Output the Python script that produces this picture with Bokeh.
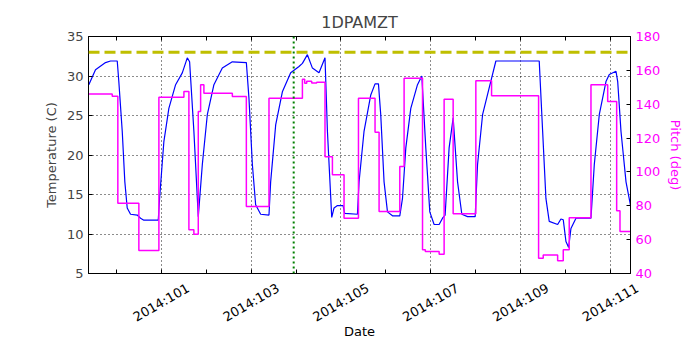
from math import pi
from bokeh.plotting import figure
from bokeh.layouts import column
from bokeh.models import Range1d, LinearAxis, FixedTicker, Span, CustomJSTickFormatter
from bokeh.core.properties import value
from bokeh.embed import file_html
from bokeh.resources import INLINE

# ---- data (day-of-year 2014) ----
temp_doy = [99.387, 99.536, 99.759, 99.870, 100.020, 100.055, 100.131, 100.189, 100.242,
            100.316, 100.465, 100.539, 100.612, 100.933, 100.962, 101.058, 101.169, 101.319,
            101.468, 101.579, 101.631, 101.726, 101.824, 101.914, 102.025, 102.172, 102.359,
            102.582, 102.894, 102.952, 103.028, 103.101, 103.213, 103.398, 103.435, 103.547,
            103.696, 103.881, 104.066, 104.142, 104.253, 104.365, 104.512, 104.645, 104.699,
            104.795, 104.846, 104.922, 105.047, 105.084, 105.367, 105.403, 105.514, 105.664,
            105.759, 105.835, 105.886, 105.960, 106.036, 106.147, 106.310, 106.370, 106.444,
            106.555, 106.704, 106.800, 106.889, 106.978, 107.074, 107.186, 107.261, 107.319,
            107.408, 107.498, 107.596, 107.691, 107.818, 107.988, 108.041, 108.153, 108.300,
            108.449, 109.414, 109.490, 109.563, 109.637, 109.824, 109.897, 109.949, 110.009,
            110.069, 110.120, 110.232, 110.566, 110.640, 110.751, 110.900, 110.974, 111.123,
            111.161, 111.234, 111.346, 111.457]
temp_c = [28.9, 30.8, 31.7, 31.9, 31.9, 29.3, 23.0, 16.6, 13.3,
          12.5, 12.4, 12.0, 11.75, 11.75, 14.5, 21.7, 25.9, 28.9,
          30.4, 32.3, 31.8, 23.0, 12.2, 18.8, 25.1, 28.9, 31.0,
          31.8, 31.7, 27.2, 18.8, 13.7, 12.5, 12.4, 16.6, 23.8,
          28.0, 30.4, 31.2, 31.6, 32.7, 31.0, 30.4, 32.3, 23.0,
          12.1, 13.3, 13.6, 13.6, 12.6, 12.5, 16.6, 23.0, 27.6,
          29.0, 29.0, 25.1, 16.6, 12.8, 12.3, 12.3, 14.5, 20.9,
          25.9, 28.9, 30.0, 20.9, 12.8, 11.2, 11.2, 12.0, 12.4,
          20.9, 24.7, 16.6, 12.5, 12.2, 12.2, 18.8, 25.1, 28.5,
          31.9, 31.9, 23.0, 14.5, 11.6, 11.2, 11.9, 11.8, 9.05,
          8.3, 10.7, 12.0, 12.0, 18.8, 25.1, 29.3, 30.2, 30.6,
          29.3, 23.0, 16.6, 13.3]

pitch_doy = [99.380, 99.908, 100.033, 100.501, 100.947, 101.504, 101.615, 101.726, 101.824,
             101.876, 101.949, 102.582, 102.894, 103.398, 104.142, 104.193, 104.238, 104.349,
             104.460, 104.645, 104.810, 105.069, 105.390, 105.759, 105.849, 106.310, 106.406,
             106.816, 106.878, 107.186, 107.297, 107.498, 108.003, 108.353, 109.400, 109.503,
             109.824, 109.949, 110.082, 110.566, 110.938, 111.138, 111.212, 111.446]
pitch_deg = [146.1, 144.7, 81.5, 53.6, 144.1, 147.5, 65.8, 63.2, 135.7,
             151.5, 146.5, 144.5, 79.6, 143.5, 154.8, 152.4, 153.5, 152.5,
             153.0, 108.9, 98.3, 72.7, 143.5, 123.5, 76.6, 103.2, 155.4,
             54.0, 53.0, 51.4, 143.0, 75.3, 153.8, 145.0, 49.0, 51.0,
             47.5, 54.0, 73.0, 151.5, 141.6, 77.0, 64.8, 64.8]

limit_temp = 33.0
now_doy = 103.948
x_major_days = [101, 103, 105, 107, 109, 111]
x_minor_days = [100, 102, 104, 106, 108, 110]
x_labels = ["2014:101", "2014:103", "2014:105", "2014:107", "2014:109", "2014:111"]
temp_ticks = [5, 10, 15, 20, 25, 30, 35]
pitch_ticks = [40, 60, 80, 100, 120, 140, 160, 180]

FONT = "DejaVu Sans"
MAG = "#ff00ff"

X0, X1 = 99.38, 111.446
FRAME_W, FRAME_H = 542, 237
LEFT, RIGHT, TOP, BOTTOM = 88, 62, 36, 7

p = figure(frame_width=FRAME_W, frame_height=FRAME_H,
           x_range=Range1d(X0, X1), y_range=Range1d(5, 35),
           output_backend="svg", toolbar_location=None,
           min_border_left=LEFT, min_border_right=RIGHT, min_border_top=TOP,
           min_border_bottom=BOTTOM)
p.background_fill_color = "white"
p.border_fill_color = "white"
p.outline_line_color = "black"
p.outline_line_width = 1

p.title.text = "1DPAMZT"
p.title.align = "center"
p.title.text_font = FONT
p.title.text_font_size = "16px"
p.title.text_font_style = "normal"

p.extra_y_ranges = {"pitch": Range1d(40, 180)}

blank = CustomJSTickFormatter(code="return ''")

xa = p.xaxis[0]
xa.ticker = FixedTicker(ticks=x_major_days, minor_ticks=x_minor_days)
xa.formatter = blank
xa.major_label_standoff = 0

ya = p.yaxis[0]
ya.ticker = FixedTicker(ticks=temp_ticks)
ya.axis_label = "Temperature (C)"

ra = LinearAxis(y_range_name="pitch", ticker=FixedTicker(ticks=pitch_ticks),
                axis_label="Pitch (deg)")
p.add_layout(ra, "right")

ta = LinearAxis(ticker=FixedTicker(ticks=x_major_days, minor_ticks=x_minor_days),
                formatter=blank)
p.add_layout(ta, "above")

for ax in [xa, ya, ra, ta]:
    ax.major_tick_in = 4
    ax.major_tick_out = 0
    ax.minor_tick_in = 4
    ax.minor_tick_out = 0
    ax.axis_line_color = "black"
    ax.major_tick_line_color = "black"
    ax.minor_tick_line_color = "black"
    ax.major_label_text_font = FONT
    ax.major_label_text_font_size = "13px"
    ax.axis_label_text_font = FONT
    ax.axis_label_text_font_size = "13px"
    ax.axis_label_text_font_style = "normal"
ya.minor_tick_line_color = None
ra.minor_tick_line_color = None
ra.major_label_text_color = MAG
ra.axis_label_text_color = MAG
ta.major_label_standoff = 0

for g in [p.xgrid[0], p.ygrid[0]]:
    g.grid_line_color = "black"
    g.grid_line_dash = "1 3"
    g.grid_line_width = 1
    g.grid_line_alpha = 0.9

p.add_layout(Span(location=limit_temp, dimension="width", line_color="#bfbf00",
                  line_width=3, line_dash="11 5"))
p.add_layout(Span(location=now_doy, dimension="height", line_color="#008000",
                  line_width=2, line_dash="2 3"))

p.line(temp_doy, temp_c, line_color="#0000ff", line_width=1.2)
p.step(pitch_doy, pitch_deg, mode="after", line_color=MAG, line_width=1.5,
       y_range_name="pitch")

# ---- strip below the plot holding the rotated date labels and the x title ----
# (its frame starts where the main frame starts and runs on to the right edge,
#  with the same pixels-per-day scale, so labels sit centred under the ticks)
px_per_day = FRAME_W / (X1 - X0)
strip_w = FRAME_W + RIGHT
strip_h = 60
q = figure(frame_width=strip_w, frame_height=strip_h,
           x_range=Range1d(X0, X0 + strip_w / px_per_day),
           y_range=Range1d(-strip_h, 0),
           x_axis_type=None, y_axis_type=None,
           output_backend="svg", toolbar_location=None,
           min_border_left=LEFT, min_border_right=0, min_border_top=0, min_border_bottom=0)
q.outline_line_color = None
q.background_fill_color = "white"
q.border_fill_color = "white"
q.grid.visible = False

label_offset = 22
q.text(x=x_major_days, y=[-label_offset] * len(x_major_days), text=x_labels,
       angle=pi / 6, text_align="center", text_baseline="middle",
       text_font=value(FONT), text_font_size=value("13px"), text_color="black")
q.text(x=[(X0 + X1) / 2], y=[-51], text=["Date"], text_align="center",
       text_baseline="middle", text_font=value(FONT), text_font_size=value("13px"),
       text_color="black")

layout = column(p, q, spacing=0)
open("out.html", "w").write(file_html(layout, INLINE))
